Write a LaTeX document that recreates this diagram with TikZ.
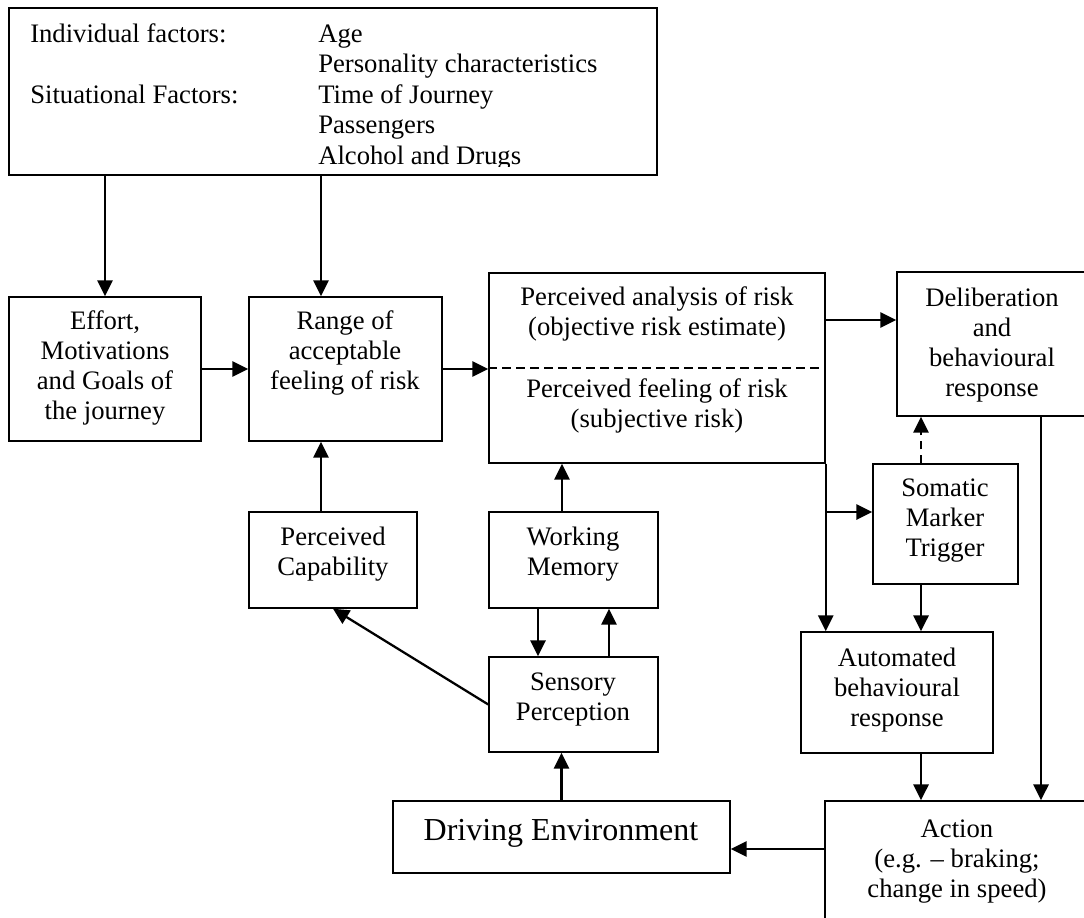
\documentclass[tikz,border=0pt]{standalone}
\usepackage{fontspec}
\setmainfont{Liberation Serif}
\usetikzlibrary{arrows.meta,calc,fit}
\begin{document}
\begin{tikzpicture}[x=0.75pt,y=-0.75pt,
  box/.style={draw, line width=1.1pt, inner sep=0pt},
  txt/.style={font=\fontsize{20}{22.5}\selectfont, align=center, inner sep=0pt},
  arr/.style={-{Triangle[length=12pt,width=11.5pt]}, line width=1.7pt},
  divider/.style={line width=1pt, dash pattern=on 6.5pt off 4pt},
  dasharr/.style={arr, dash pattern=on 6pt off 4.5pt}
]
\useasboundingbox (0,0) rectangle (1084,917);
\clip (0,0) rectangle (1084,917);

% boxes
\node[box, fit={(9,8)(657,175)}] (top) {};
\node[box, fit={(9,297)(201,441)}] (eff) {};
\node[box, fit={(249,297)(442,441)}] (rng) {};
\node[box, fit={(489,273)(825,463)}] (perc) {};
\node[box, fit={(897,272)(1088,416)}] (del) {};
\node[box, fit={(873,464)(1018,584)}] (som) {};
\node[box, fit={(801,632)(993,753)}] (auto) {};
\node[box, fit={(825,801)(1089,940)}] (act) {};
\node[box, fit={(393,801)(730,873)}] (drv) {};
\node[box, fit={(489,657)(658,752)}] (sen) {};
\node[box, fit={(249,512)(417,608)}] (pc) {};
\node[box, fit={(489,512)(658,608)}] (wm) {};

% top box text
\node[txt, anchor=base west] (t1) at (30,43) {Individual factors:};
\node[txt, anchor=base west] (t2) at (30,103.5) {Situational Factors:};
\node[txt, anchor=base west] (t3) at (318,43) {Age};
\node[txt, anchor=base west] (t4) at (318,73) {Personality characteristics};
\node[txt, anchor=base west] (t5) at (318,103.5) {Time of Journey};
\node[txt, anchor=base west] (t6) at (318,133.5) {Passengers};
\begin{scope}
\clip (9,8) rectangle (657,166);
\node[txt, anchor=base west] (t7) at (318,164.5) {Alcohol and Drugs};
\end{scope}

% box texts
\node[txt] (efft) at (105,368) {Effort,\\Motivations\\and Goals of\\the journey};
\node[txt] (rngt) at (345,353) {Range of\\acceptable\\feeling of risk};
\node[txt] (perct1) at (657,314) {Perceived analysis of risk\\(objective risk estimate)};
\node[txt] (perct2) at (657,406) {Perceived feeling of risk\\(subjective risk)};
\node[txt] (delt) at (992,345) {Deliberation\\and\\behavioural\\response};
\node[txt] (somt) at (945,521) {Somatic\\Marker\\Trigger};
\node[txt] (autot) at (897,690) {Automated\\behavioural\\response};
\node[txt] (actt) at (957,862) {Action\\(e.g. – braking;\\change in speed)};
\node[txt, font=\fontsize{24}{28}\selectfont] (drvt) at (561,833) {Driving Environment};
\node[txt] (sent) at (573,699) {Sensory\\Perception};
\node[txt] (pct) at (333,554) {Perceived\\Capability};
\node[txt] (wmt) at (573,554) {Working\\Memory};

% divider in perceived box
\draw[divider] (perc.west) -- ($(perc.east)+(-7,0)$);

% helper coordinates
\coordinate (xr) at (321,0);
\coordinate (xw) at (562,0);
\coordinate (xd) at (538,0);
\coordinate (xu) at (609,0);
\coordinate (xs) at (921,0);
\coordinate (xa) at (1041,0);
\coordinate (yd) at (0,320);
\coordinate (ys) at (0,512);
\coordinate (yo) at (0,849);

% connectors
\draw[arr] (top.south -| eff.north) -- (eff.north);
\draw[arr] (top.south -| xr) -- (rng.north -| xr);
\draw[arr] (eff.east) -- (rng.west);
\draw[arr] (rng.east) -- (perc.west |- rng.east);
\draw[arr] (perc.east |- yd) -- (del.west |- yd);
\draw[arr] (perc.south east) -- (auto.north -| perc.south east);
\draw[arr] (perc.east |- ys) -- (som.west |- ys);
\draw[dasharr] (som.north -| xs) -- (del.south -| xs);
\draw[arr] (som.south -| xs) -- (auto.north -| xs);
\draw[arr] (auto.south -| xs) -- (act.north -| xs);
\draw[arr] (del.south -| xa) -- (act.north -| xa);
\draw[arr] (act.west |- yo) -- (drv.east |- yo);
\draw[arr] (drv.north) -- (sen.south -| drv.north);
\draw[arr] (sen.west) -- (pc.south);
\draw[arr] (pc.north -| xr) -- (rng.south -| xr);
\draw[arr] (wm.north -| xw) -- (perc.south -| xw);
\draw[arr] (wm.south -| xd) -- (sen.north -| xd);
\draw[arr] (sen.north -| xu) -- (wm.south -| xu);
\end{tikzpicture}
\end{document}
